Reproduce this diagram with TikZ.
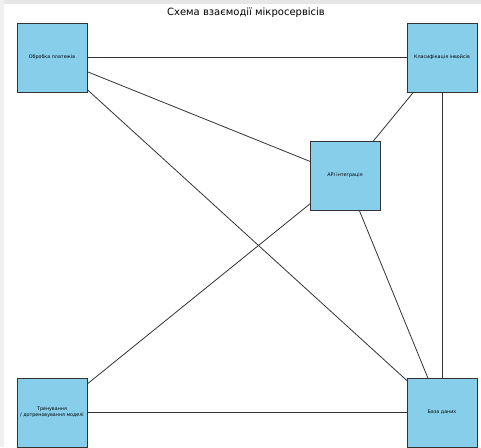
\documentclass[tikz,border=0pt]{standalone}
\usepackage{fontspec}
\setmainfont{DejaVu Sans}
\definecolor{boxfill}{HTML}{87CEEB}
\definecolor{edgecol}{HTML}{333333}
\definecolor{framegray}{HTML}{E6E6E6}
\begin{document}
\begin{tikzpicture}[x=1pt,y=-1pt,
  svc/.style={draw=edgecol, line width=0.9pt, fill=boxfill, minimum width=70pt, minimum height=69pt, inner sep=1pt, align=center, font=\fontsize{4.8}{5.8}\selectfont},
  link/.style={draw=edgecol, line width=0.8pt}]
\useasboundingbox (0,0) rectangle (481,447);
\fill[white] (0,0) rectangle (481,447);
\fill[framegray] (0,0) rectangle (481,4);
\fill[framegray!60] (0,0) rectangle (4,447);
\node[font=\fontsize{10}{12}\selectfont] (title) at (246,13) {Схема взаємодії мікросервісів};
\coordinate (pc) at (52,57.5);
\coordinate (kc) at (442,57.5);
\coordinate (ac) at (345,175.5);
\coordinate (tc) at (52,412.5);
\coordinate (bc) at (442,412.5);
\draw[link] (pc) -- (kc);
\draw[link] (pc) -- (ac);
\draw[link] (pc) -- (bc);
\draw[link] (kc) -- (ac);
\draw[link] (kc) -- (bc);
\draw[link] (ac) -- (tc);
\draw[link] (ac) -- (bc);
\draw[link] (tc) -- (bc);
\node[svc] (p) at (pc) {Обробка платежів};
\node[svc] (k) at (kc) {Класифікація інвойсів};
\node[svc] (a) at (ac) {API інтеграція};
\node[svc] (t) at (tc) {Тренування\\/ дотреновування моделі};
\node[svc] (b) at (bc) {База даних};
\end{tikzpicture}
\end{document}
